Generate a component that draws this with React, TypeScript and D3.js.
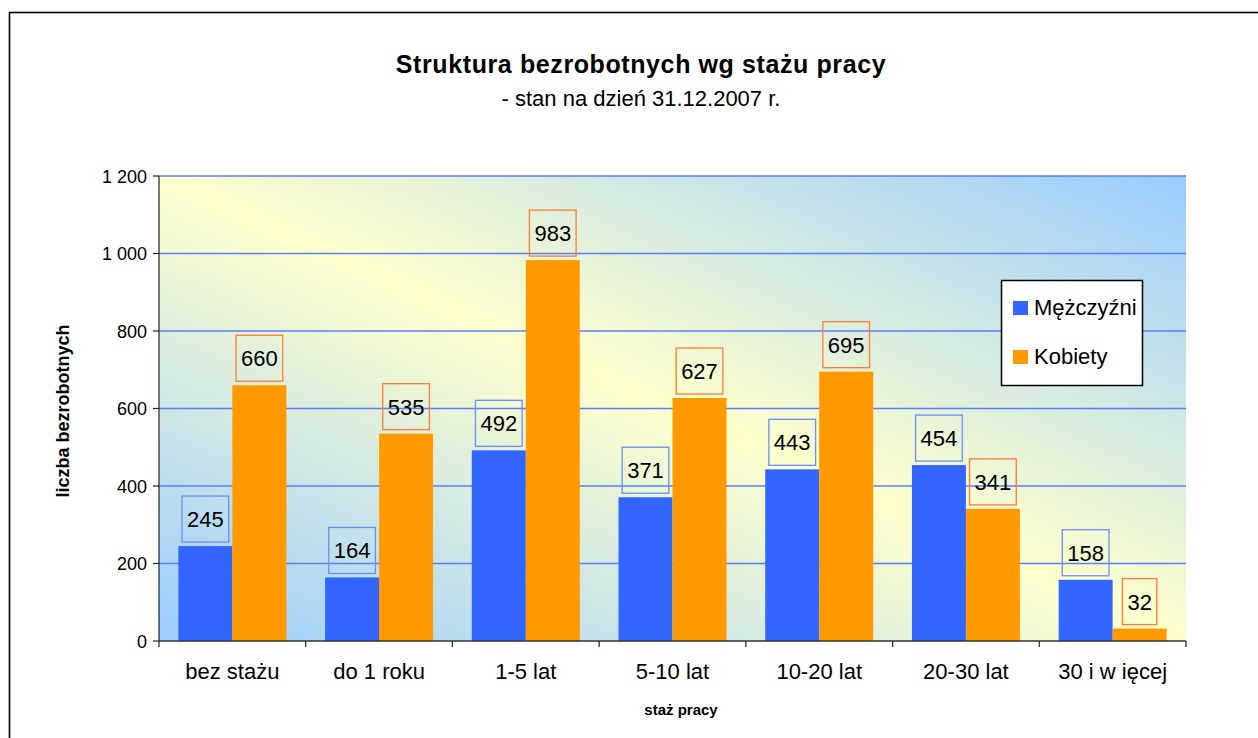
import React from 'react';
import * as d3 from 'd3';

// dane z wykresu
const categories = ['bez stażu', 'do 1 roku', '1-5 lat', '5-10 lat', '10-20 lat', '20-30 lat', '30 i w ięcej'];
const men = [245, 164, 492, 371, 443, 454, 158];
const women = [660, 535, 983, 627, 695, 341, 32];
const seriesNames = ['Mężczyźni', 'Kobiety'];
const yTickValues = [0, 200, 400, 600, 800, 1000, 1200];

const W = 1258;
const H = 738;
const plot = { left: 159, right: 1186, top: 176, bottom: 641 };
const FONT = "'Liberation Sans', Arial, sans-serif";

const BLUE = '#3366ff';
const ORANGE = '#ff9900';

const fmt = d3.formatLocale({ decimal: ',', thousands: ' ', grouping: [3], currency: ['', ''] }).format(',');

const App = () => {
  const x = d3.scaleBand<string>()
    .domain(categories)
    .range([plot.left, plot.right])
    .paddingInner(0.264)
    .paddingOuter(0.132);

  const xs = d3.scaleBand<string>().domain(['m', 'k']).range([0, x.bandwidth()]);

  const y = d3.scaleLinear().domain([0, 1200]).range([plot.bottom, plot.top]);

  const series = [
    { key: 'm', name: seriesNames[0], values: men, fill: BLUE, box: '#6a8df2' },
    { key: 'k', name: seriesNames[1], values: women, fill: ORANGE, box: '#ff7a33' },
  ];

  const valFont = 22;
  const boundaries = d3.range(categories.length + 1).map(i => plot.left + i * x.step());

  return (
    <svg width={W} height={H} style={{ position: 'absolute', left: 0, top: 0, background: '#fff' }} fontFamily={FONT}>
      <defs>
        <linearGradient id="bg" x1="0" y1="1" x2="1" y2="0">
          <stop offset="0" stopColor="#99ccff" />
          <stop offset="0.5" stopColor="#ffffcc" />
          <stop offset="1" stopColor="#99ccff" />
        </linearGradient>
      </defs>

      <rect x={9.5} y={12.5} width={1400} height={900} fill="#fff" stroke="#000" strokeWidth={1.6} />

      <text x={641} y={73} textAnchor="middle" fontSize={25} fontWeight="bold" letterSpacing={0.6}>
        Struktura bezrobotnych wg stażu pracy
      </text>
      <text x={641} y={106} textAnchor="middle" fontSize={22}>- stan na dzień 31.12.2007 r.</text>

      <rect x={plot.left} y={plot.top} width={plot.right - plot.left} height={plot.bottom - plot.top} fill="url(#bg)" />

      {yTickValues.filter(t => t > 0).map(t => (
        <line key={t} x1={plot.left} x2={plot.right} y1={y(t)} y2={y(t)} stroke="#5a7cff" strokeWidth={1.5} />
      ))}

      {series.map(s => (
        <g key={s.key}>
          {categories.map((c, i) => (
            <rect key={c} x={(x(c) as number) + (xs(s.key) as number)} y={y(s.values[i])}
              width={xs.bandwidth()} height={plot.bottom - y(s.values[i])} fill={s.fill} />
          ))}
        </g>
      ))}

      {series.map(s => (
        <g key={'lbl' + s.key}>
          {categories.map((c, i) => {
            const v = s.values[i];
            const cx = (x(c) as number) + (xs(s.key) as number) + xs.bandwidth() / 2;
            const tw = String(v).length * 0.556 * valFont;
            const bw = tw + 10;
            const bh = 46;
            const by = y(v) - 4 - bh;
            return (
              <g key={c}>
                <rect x={cx - bw / 2} y={by} width={bw} height={bh} fill="none" stroke={s.box} strokeWidth={1.3} />
                <text x={cx} y={by + bh / 2 + valFont * 0.36} textAnchor="middle" fontSize={valFont}>{v}</text>
              </g>
            );
          })}
        </g>
      ))}

      {/* oś Y */}
      <line x1={plot.left} x2={plot.left} y1={plot.top} y2={plot.bottom} stroke="#222" strokeWidth={1.2} />
      {yTickValues.map(t => (
        <g key={'yt' + t}>
          <line x1={plot.left - 6} x2={plot.left} y1={y(t)} y2={y(t)} stroke="#222" strokeWidth={1.2} />
          <text x={plot.left - 12} y={y(t) + 6.5} textAnchor="end" fontSize={18}>{fmt(t)}</text>
        </g>
      ))}

      {/* oś X */}
      <line x1={plot.left} x2={plot.right} y1={plot.bottom} y2={plot.bottom} stroke="#333" strokeWidth={1.5} />
      {boundaries.map((bx, i) => (
        <line key={'xt' + i} x1={bx} x2={bx} y1={plot.bottom} y2={plot.bottom + 6} stroke="#222" strokeWidth={1.2} />
      ))}
      {categories.map(c => (
        <text key={'xl' + c} x={(x(c) as number) + x.bandwidth() / 2} y={679} textAnchor="middle" fontSize={22}>{c}</text>
      ))}

      <text x={681} y={715} textAnchor="middle" fontSize={15} fontWeight="bold">staż pracy</text>
      <text transform="translate(69,411) rotate(-90)" textAnchor="middle" fontSize={18} fontWeight="bold">liczba bezrobotnych</text>

      {/* legenda */}
      <g>
        <rect x={1001.5} y={280.5} width={141} height={105} fill="#fff" stroke="#000" strokeWidth={1.5} />
        {series.map((s, i) => (
          <g key={'lg' + s.key} transform={`translate(1013,${301 + i * 49})`}>
            <rect x={0} y={0} width={15} height={14} fill={s.fill} />
            <text x={21} y={14} fontSize={22}>{s.name}</text>
          </g>
        ))}
      </g>
    </svg>
  );
};

export default App;
